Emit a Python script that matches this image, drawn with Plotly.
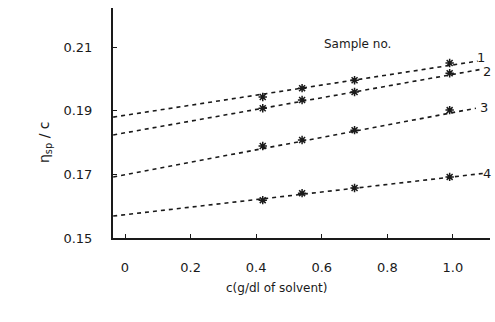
import plotly.graph_objects as go

# Data
samples = ["1", "2", "3", "4"]
conc_points = [0.42, 0.54, 0.70, 0.99]           # c (g/dl of solvent) of measured points
eta_points = {
    "1": [0.1943, 0.1971, 0.1996, 0.2050],
    "2": [0.1908, 0.1934, 0.1959, 0.2018],
    "3": [0.1789, 0.1808, 0.1839, 0.1902],
    "4": [0.1619, 0.1641, 0.1657, 0.1692],
}
# fitted straight lines: value at the axis and at the right end
line_x_start = -0.036
line_x_end = {"1": 1.075, "2": 1.085, "3": 1.07, "4": 1.10}
line_y_start = {"1": 0.1880, "2": 0.1824, "3": 0.1692, "4": 0.1569}
line_y_end = {"1": 0.2056, "2": 0.2030, "3": 0.1908, "4": 0.1704}

x_ticks = [0, 0.2, 0.4, 0.6, 0.8, 1.0]
x_ticktext = ["0", "0.2", "0.4", "0.6", "0.8", "1.0"]
y_ticks = [0.15, 0.17, 0.19, 0.21]
y_ticktext = ["0.15", "0.17", "0.19", "0.21"]

ink = "#1a1a1a"
fnt = "DejaVu Sans"

W, H = 495, 322
PL, PR, PT, PB = 113, 490, 8, 238          # plot area in page pixels
L, R, T, B = PL, W - PR, PT, H - PB


def dom(px, py):
    return (px - PL) / (PR - PL), 1 - (py - PT) / (PB - PT)


fig = go.Figure()
for s in samples:
    fig.add_trace(go.Scatter(
        x=[line_x_start, line_x_end[s]], y=[line_y_start[s], line_y_end[s]],
        mode="lines", line=dict(color=ink, width=1.6, dash="4px,4px"),
        showlegend=False, hoverinfo="skip"))
    fig.add_trace(go.Scatter(
        x=conc_points, y=eta_points[s], mode="markers",
        marker=dict(symbol="asterisk-open", size=7, color=ink,
                    line=dict(color=ink, width=1.5)),
        showlegend=False, name="Sample " + s))

label_px = {"1": (481, 58), "2": (487, 72), "3": (484, 108), "4": (487, 173)}
for s in samples:
    xd, yd = dom(*label_px[s])
    fig.add_annotation(x=xd, y=yd, xref="x domain", yref="y domain", text=s,
                       showarrow=False, font=dict(family=fnt, size=13, color=ink),
                       xanchor="center", yanchor="middle")

xd, yd = dom(393, 35)
fig.add_annotation(x=xd, y=yd, xref="x domain", yref="y domain", text="Sample no.",
                   showarrow=False, font=dict(family=fnt, size=12, color=ink))

xd, yd = dom(34, 165)
fig.add_annotation(text="η<sub>sp</sub> / c", textangle=-90, showarrow=False,
                   x=xd, y=yd, xref="x domain", yref="y domain",
                   font=dict(family=fnt, size=14, color=ink))
xd, yd = dom(277, 297)
fig.add_annotation(text="c(g/dl of solvent)", showarrow=False,
                   x=xd, y=yd, xref="x domain", yref="y domain",
                   font=dict(family=fnt, size=12, color=ink))

fig.update_layout(
    width=W, height=H, margin=dict(l=L, r=R, t=T, b=B, autoexpand=False),
    paper_bgcolor="white", plot_bgcolor="white",
    font=dict(family=fnt, size=13, color=ink),
    xaxis=dict(range=[-0.0366, 1.113], tickvals=x_ticks, ticktext=x_ticktext,
               showgrid=False, zeroline=False, showline=True, linecolor=ink, linewidth=2,
               ticks="inside", ticklen=4, tickcolor=ink, ticklabelstandoff=16),
    yaxis=dict(range=[0.15, 0.2223], tickvals=y_ticks, ticktext=y_ticktext,
               showgrid=False, zeroline=False, showline=True, linecolor=ink, linewidth=2,
               ticks="inside", ticklen=4, tickcolor=ink, ticklabelstandoff=16),
)

fig.write_html("out.html", config={"displayModeBar": False},
               post_script="document.body.style.margin='0';document.body.style.overflow='hidden';")
